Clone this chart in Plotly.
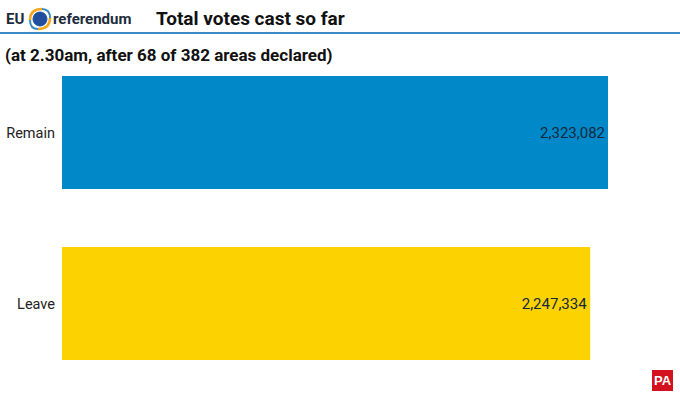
import plotly.graph_objects as go

categories = ["Leave", "Remain"]
votes = [2247334, 2323082]
bar_colors = ["#fcd200", "#0088c9"]
value_labels = ["2,247,334", "2,323,082"]

title_text = "Total votes cast so far"
subtitle_text = "(at 2.30am, after 68 of 382 areas declared)"

W, H = 680, 397
x_left, x_right = 62, 668
zero_px, max_px = 62, 608
xmax = votes[1] * (x_right - x_left) / (max_px - zero_px)
TOP, BOT = 47, 8
FONT = "Roboto, Noto Sans, sans-serif"

fig = go.Figure(go.Bar(
    y=categories, x=votes, orientation="h",
    marker=dict(color=bar_colors, line=dict(width=0)),
    text=value_labels, textposition="inside", insidetextanchor="end",
    textfont=dict(family=FONT, size=15, color="#14283c"),
    width=0.66, hoverinfo="skip", cliponaxis=False,
))

fig.update_layout(
    width=W, height=H,
    margin=dict(l=x_left, r=W - x_right, t=TOP, b=BOT, autoexpand=False),
    paper_bgcolor="white", plot_bgcolor="white",
    showlegend=False,
    xaxis=dict(range=[0, xmax], visible=False, fixedrange=True),
    yaxis=dict(range=[-0.5, 1.5], showgrid=False, zeroline=False, showline=False,
               ticks="", ticklabelstandoff=6, automargin=False,
               tickfont=dict(family=FONT, size=14.5, color="#222222")),
    font=dict(family=FONT),
)

pw, ph = x_right - x_left, H - TOP - BOT
def px(x): return (x - x_left) / pw
def py(y): return (H - BOT - y) / ph

shapes = [
    dict(type="line", xref="paper", yref="paper", x0=px(0), x1=px(W), y0=py(33), y1=py(33),
         line=dict(color="#3a8ac4", width=2)),
    # EU logo circle
    dict(type="circle", xref="paper", yref="paper", x0=px(33), x1=px(47), y0=py(26), y1=py(12),
         fillcolor="#1f4f9c", line=dict(color="#1f4f9c", width=1)),
    dict(type="path", xref="paper", yref="paper",
         path=f"M {px(30)} {py(20)} Q {px(30)} {py(9)} {px(42)} {py(9)}",
         line=dict(color="#f4a81d", width=2.5)),
    dict(type="path", xref="paper", yref="paper",
         path=f"M {px(50)} {py(18)} Q {px(50)} {py(29)} {px(38)} {py(29)}",
         line=dict(color="#f4a81d", width=2.5)),
    dict(type="path", xref="paper", yref="paper",
         path=f"M {px(42)} {py(9)} Q {px(50)} {py(9)} {px(50)} {py(18)}",
         line=dict(color="#3a8ac4", width=2)),
    dict(type="path", xref="paper", yref="paper",
         path=f"M {px(38)} {py(29)} Q {px(30)} {py(29)} {px(30)} {py(20)}",
         line=dict(color="#3a8ac4", width=2)),
    # PA logo
    dict(type="rect", xref="paper", yref="paper", x0=px(652), x1=px(673), y0=py(391), y1=py(370),
         fillcolor="#d4111e", line=dict(width=0)),
]

annotations = [
    dict(text="<b>EU</b>", xref="paper", yref="paper", x=px(4), y=py(19), xanchor="left", yanchor="middle",
         showarrow=False, font=dict(family=FONT, size=15, color="#1d2c3c")),
    dict(text="<b>referendum</b>", xref="paper", yref="paper", x=px(51), y=py(19), xanchor="left", yanchor="middle",
         showarrow=False, font=dict(family=FONT, size=15, color="#1d2c3c")),
    dict(text=f"<b>{title_text}</b>", xref="paper", yref="paper", x=px(154), y=py(19), xanchor="left", yanchor="middle",
         showarrow=False, font=dict(family=FONT, size=19, color="#111111")),
    dict(text=f"<b>{subtitle_text}</b>", xref="paper", yref="paper", x=px(3), y=py(55), xanchor="left", yanchor="middle",
         showarrow=False, font=dict(family=FONT, size=17, color="#111111")),
    dict(text="<b>PA</b>", xref="paper", yref="paper", x=px(662.5), y=py(380.5), xanchor="center", yanchor="middle",
         showarrow=False, font=dict(family="Liberation Sans, sans-serif", size=13, color="white")),
]

fig.update_layout(shapes=shapes, annotations=annotations)
fig.write_html("out.html", config={"displayModeBar": False},
               post_script="document.body.style.margin='0';document.body.style.overflow='hidden';")
